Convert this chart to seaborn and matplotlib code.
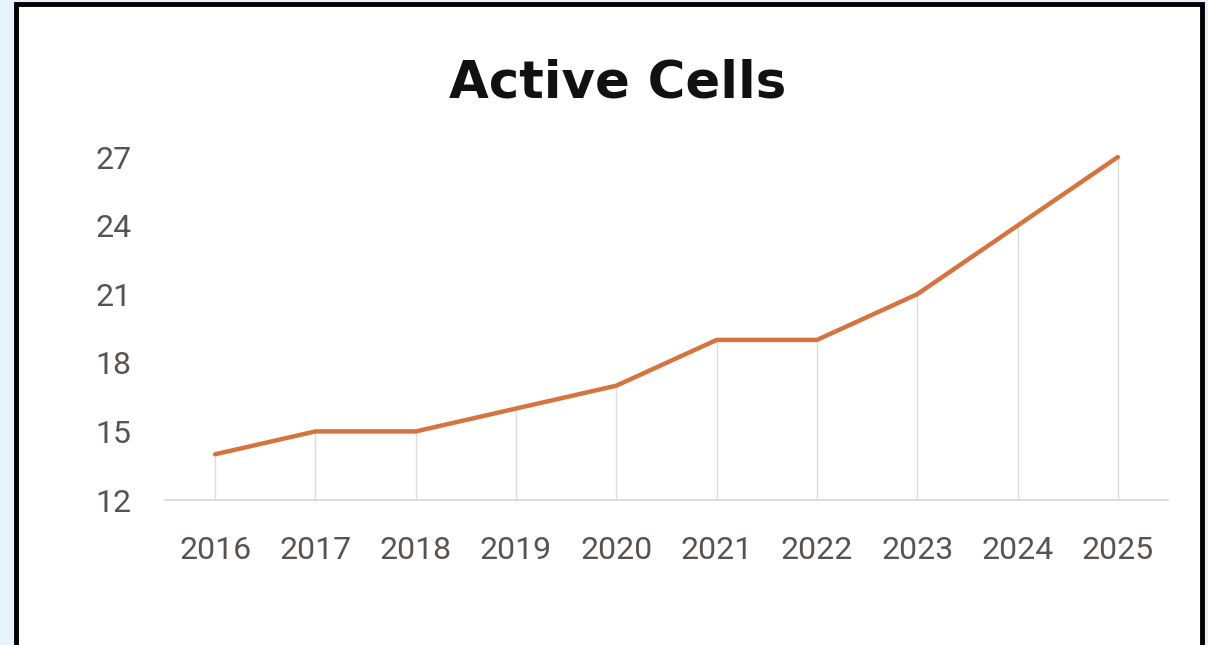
import matplotlib
matplotlib.use("Agg")
import matplotlib.pyplot as plt
import seaborn as sns
import pandas as pd
from matplotlib.patches import Rectangle

years = ["2016", "2017", "2018", "2019", "2020", "2021", "2022", "2023", "2024", "2025"]
active_cells = [14, 15, 15, 16, 17, 19, 19, 21, 24, 27]
y_ticks = [12, 15, 18, 21, 24, 27]

df = pd.DataFrame({"Year": years, "Active Cells": active_cells})

sns.set_theme(style="white")
plt.rcParams["font.family"] = ["Roboto", "DejaVu Sans"]

W, H = 1208, 645
fig = plt.figure(figsize=(W / 100, H / 100), dpi=100, facecolor="#e8f2fb")

# white card with black frame
fig.patches.append(Rectangle((16 / W, -0.05), (1202 - 16) / W, 1 - 4 / H + 0.05,
                             transform=fig.transFigure, facecolor="white",
                             edgecolor="black", linewidth=3.5, zorder=-5))

ax = fig.add_axes([165 / W, 1 - 500 / H, (1168 - 165) / W, (500 - 157) / H])
ax.set_zorder(2)
ax.set_facecolor("none")

sns.lineplot(data=df, x="Year", y="Active Cells", ax=ax, color="#d5743f",
             linewidth=3.2, sort=False, clip_on=False, zorder=3)

# drop lines from each point to the baseline
xs = list(range(len(years)))
ax.vlines(xs, 12, active_cells, colors="#dcdcdc", linewidth=1.0, zorder=1)

ax.set_xlim(-0.5, len(years) - 0.5)
ax.set_ylim(12, 27)
ax.set_yticks(y_ticks)
ax.set_yticklabels([str(v) for v in y_ticks])
ax.set_xlabel("")
ax.set_ylabel("")

for s in ["top", "right", "left"]:
    ax.spines[s].set_visible(False)
ax.spines["bottom"].set_color("#dcd6d6")
ax.spines["bottom"].set_linewidth(1.2)

ax.tick_params(axis="both", length=0, labelsize=23, labelcolor="#5a5252")
ax.tick_params(axis="x", pad=26)
ax.tick_params(axis="y", pad=24)

fig.text(618 / W, 1 - 83 / H, "Active Cells", ha="center", va="center",
         fontsize=37, fontweight="bold", color="#111111",
         family=["DejaVu Sans"], zorder=5)

fig.savefig("out.png", dpi=100, facecolor=fig.get_facecolor())
